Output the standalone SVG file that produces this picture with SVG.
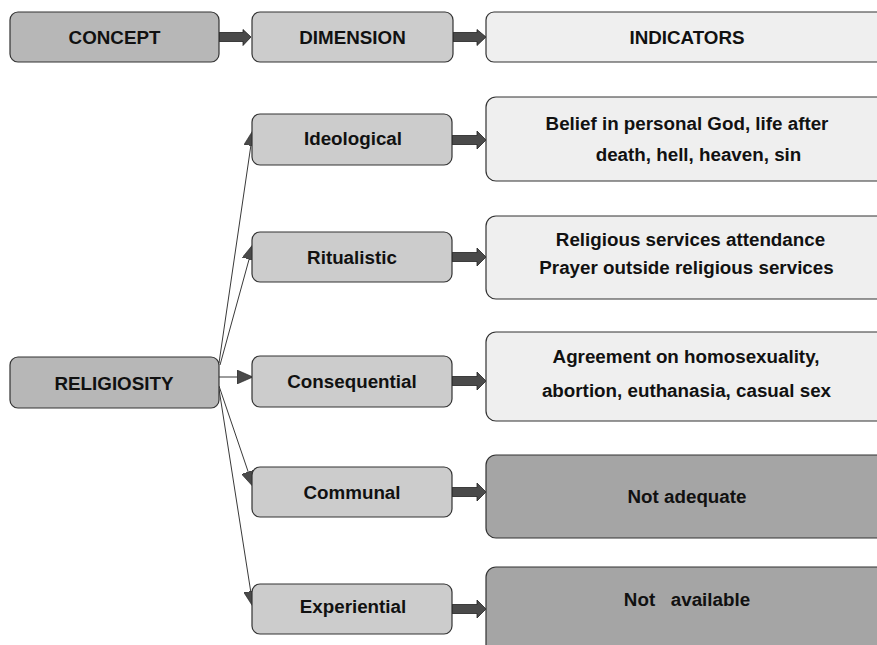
<svg xmlns="http://www.w3.org/2000/svg" width="877" height="645" viewBox="0 0 877 645">
<defs>
<style>
.box{stroke:#333;stroke-width:1.2}
.c{fill:#b7b7b7}
.d{fill:#cccccc}
.i{fill:#efefef}
.n{fill:#a5a5a5}
text{font-family:"Liberation Sans",Arial,sans-serif;font-weight:bold;font-size:18.8px;fill:#111;text-anchor:middle}
.thin{stroke:#222;stroke-width:0.9;fill:none}
.fat{fill:#4a4a4a;stroke:#222;stroke-width:0.8}
</style>
<marker id="ah" viewBox="0 0 16 14" refX="15" refY="7" markerWidth="16" markerHeight="14" markerUnits="userSpaceOnUse" orient="auto">
<path d="M0,0 L16,7 L0,14 Z" fill="#4a4a4a" stroke="#222" stroke-width="0.6"/>
</marker>
</defs>
<rect width="877" height="645" fill="#fff"/>

<g id="connectors">
<path class="fat" d="M219,32.5 H243 V29.5 L251,37 L243,45.5 V41.5 H219 Z"/>
<path class="fat" d="M453,32.5 H477 V29.5 L486,37 L477,45.5 V41.5 H453 Z"/>
<path class="fat" d="M452,135.5 H477 V131 L486,140 L477,149 V144.5 H452 Z"/>
<path class="fat" d="M452,252.5 H477 V248 L486,257 L477,266 V261.5 H452 Z"/>
<path class="fat" d="M452,376.5 H477 V372 L486,381 L477,390 V385.5 H452 Z"/>
<path class="fat" d="M452,487.5 H477 V483 L486,492 L477,501 V496.5 H452 Z"/>
<path class="fat" d="M452,604.5 H477 V600 L486,609 L477,618 V613.5 H452 Z"/>
<line class="thin" x1="219" y1="363" x2="253" y2="131" marker-end="url(#ah)"/>
<line class="thin" x1="220" y1="365" x2="253" y2="245" marker-end="url(#ah)"/>
<line class="thin" x1="219" y1="377" x2="252" y2="377" marker-end="url(#ah)"/>
<line class="thin" x1="219" y1="386" x2="253" y2="486" marker-end="url(#ah)"/>
<line class="thin" x1="219" y1="389" x2="253" y2="606" marker-end="url(#ah)"/>
</g>

<g id="concept"><rect class="box c" x="10" y="12" width="209" height="50" rx="8"/><text x="114.5" y="44">CONCEPT</text></g>
<g id="dimension"><rect class="box d" x="252" y="12" width="201" height="50" rx="8"/><text x="352.5" y="44">DIMENSION</text></g>
<g id="indicators"><rect class="box i" x="486" y="12" width="402" height="50" rx="8"/><text x="687" y="44">INDICATORS</text></g>

<g id="religiosity"><rect class="box c" x="10" y="357" width="209" height="51" rx="8"/><text x="114" y="390">RELIGIOSITY</text></g>

<g id="ideological"><rect class="box d" x="252" y="114" width="200" height="51" rx="8"/><text x="353" y="145">Ideological</text></g>
<g id="ritualistic"><rect class="box d" x="252" y="232" width="200" height="50" rx="8"/><text x="352" y="264">Ritualistic</text></g>
<g id="consequential"><rect class="box d" x="252" y="356" width="200" height="51" rx="8"/><text x="352" y="388">Consequential</text></g>
<g id="communal"><rect class="box d" x="252" y="467" width="200" height="50" rx="8"/><text x="352" y="499">Communal</text></g>
<g id="experiential"><rect class="box d" x="252" y="584" width="200" height="50" rx="8"/><text x="353" y="613">Experiential</text></g>

<g id="ind-ideological"><rect class="box i" x="486" y="97" width="402" height="84" rx="10"/><text x="687" y="130">Belief in personal God, life after</text><text x="698.5" y="161">death, hell, heaven, sin</text></g>
<g id="ind-ritualistic"><rect class="box i" x="486" y="216" width="402" height="83" rx="10"/><text x="690.5" y="246">Religious services attendance</text><text x="686.5" y="274">Prayer outside religious services</text></g>
<g id="ind-consequential"><rect class="box i" x="486" y="332" width="402" height="89" rx="10"/><text x="686" y="363">Agreement on homosexuality,</text><text x="686.5" y="397">abortion, euthanasia, casual sex</text></g>
<g id="ind-communal"><rect class="box n" x="486" y="455" width="402" height="83" rx="10"/><text x="687" y="503">Not adequate</text></g>
<g id="ind-experiential"><rect class="box n" x="486" y="567" width="402" height="95" rx="10"/><text x="687" y="606" xml:space="preserve">Not   available</text></g>
</svg>
